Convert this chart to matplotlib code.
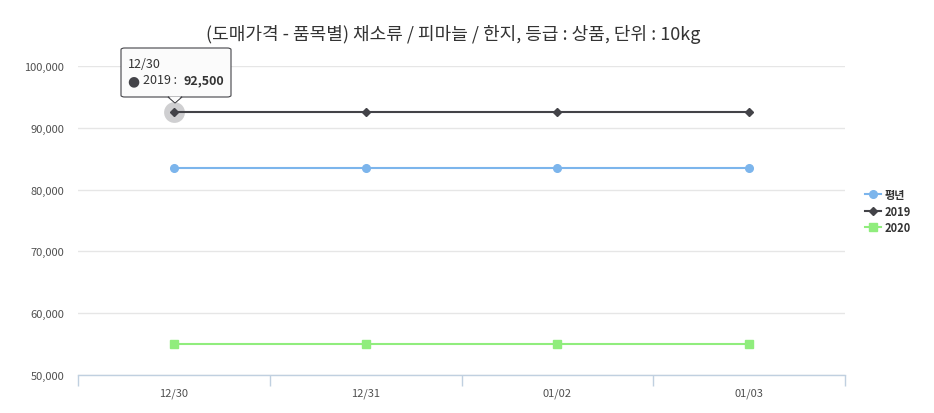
import matplotlib
matplotlib.use("Agg")
import matplotlib.pyplot as plt
from matplotlib.patches import FancyBboxPatch, Polygon

plt.rcParams['font.family'] = ['Noto Sans CJK KR', 'DejaVu Sans']

categories = ["12/30", "12/31", "01/02", "01/03"]
avg_values = [83500, 83500, 83500, 83500]
y2019_values = [92500, 92500, 92500, 92500]
y2020_values = [55000, 55000, 55000, 55000]
series_names = ["평년", "2019", "2020"]
title = "(도매가격 - 품목별) 채소류 / 피마늘 / 한지, 등급 : 상품, 단위 : 10kg"
yticks = [50000, 60000, 70000, 80000, 90000, 100000]

W, H = 934, 414
fig = plt.figure(figsize=(W/100, H/100), dpi=100)
left, right, top, bottom = 78, 845, 67, 376
ax = fig.add_axes([left/W, 1-bottom/H, (right-left)/W, (bottom-top)/H])

x = list(range(len(categories)))
ax.plot(x, avg_values, color="#7cb5ec", lw=1.5, marker="o", ms=5.5, label=series_names[0], zorder=3)
ax.plot(x, y2019_values, color="#434348", lw=1.5, marker="D", ms=4.5, label=series_names[1], zorder=3)
ax.plot(x, y2020_values, color="#90ed7d", lw=1.5, marker="s", ms=5.5, label=series_names[2], zorder=3)

# hover halo on first 2019 point
ax.plot([x[0]], [y2019_values[0]], marker="o", ms=15, color="#434348", alpha=0.25, mec="none", zorder=2)

ax.set_xlim(-0.5, len(categories)-0.5)
ax.set_ylim(50000, 100000)
ax.set_yticks(yticks)
ax.set_yticklabels([f"{v:,}" for v in yticks], fontsize=8, color="#505050", fontweight="medium")
ax.set_xticks(x)
ax.set_xticklabels(categories, fontsize=8, color="#505050", fontweight="medium")
ax.set_xticks([i-0.5 for i in range(len(categories)+1)], minor=True)
ax.tick_params(axis="x", which="major", length=0, pad=9)
ax.tick_params(axis="x", which="minor", length=8, color="#C0D0E0", width=1)
ax.tick_params(axis="y", length=0, pad=10)
ax.grid(axis="y", color="#E6E6E6", lw=1)
ax.set_axisbelow(True)
for s in ["top", "right", "left"]:
    ax.spines[s].set_visible(False)
ax.spines["bottom"].set_color("#C0D0E0")
ax.spines["bottom"].set_linewidth(1)

fig.text(453/W, 1-35/H, title, ha="center", va="center", fontsize=13, color="#333333")

leg = fig.legend(loc="center left", bbox_to_anchor=(855/W, 1-212/H), frameon=False,
                 handlelength=1.4, handletextpad=0.4, labelspacing=0.3,
                 prop={'weight': 'bold', 'size': 8})
for t in leg.get_texts():
    t.set_color("#333333")

# tooltip
tx0, ty0, tx1, ty1 = 121, 49, 231, 98
def fx(px): return px/W
def fy(py): return 1-py/H
box = FancyBboxPatch((fx(tx0), fy(ty1)), fx(tx1)-fx(tx0), fy(ty0)-fy(ty1),
                     boxstyle="round,pad=0,rounding_size=0.004", transform=fig.transFigure,
                     fc="#FBFBFB", ec="#434348", lw=0.8, zorder=10)
fig.patches.append(box)
tri = Polygon([(fx(168), fy(ty1)), (fx(182), fy(ty1)), (fx(175), fy(104))], closed=True,
              transform=fig.transFigure, fc="#FBFBFB", ec="#434348", lw=0.8, zorder=10)
fig.patches.append(tri)
cover = Polygon([(fx(168.8), fy(ty1-0.6)), (fx(181.2), fy(ty1-0.6)), (fx(175), fy(103))], closed=True,
                transform=fig.transFigure, fc="#FBFBFB", ec="none", zorder=11)
fig.patches.append(cover)
fig.text(fx(128), fy(64), categories[0], fontsize=9, color="#333333", va="center", zorder=12)
fig.text(fx(127), fy(81), "●", fontsize=10, color="#434348", va="center", zorder=12, family="DejaVu Sans")
fig.text(fx(143), fy(81), f"{series_names[1]} :", fontsize=9, color="#333333", va="center", zorder=12)
fig.text(fx(184), fy(81), f"{y2019_values[0]:,}", fontsize=9, color="#333333", va="center",
         fontweight="bold", zorder=12)

fig.savefig("out.png", dpi=100)
